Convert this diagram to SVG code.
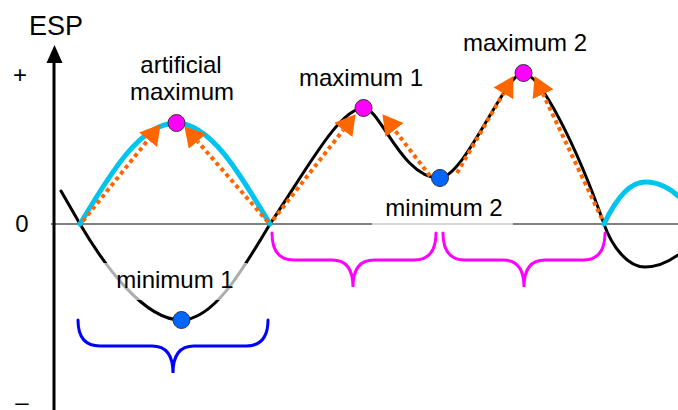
<svg xmlns="http://www.w3.org/2000/svg" width="678" height="410" viewBox="0 0 678 410">
<style>
  .lbl { font-family: "Liberation Sans", Arial, sans-serif; font-size: 24px; fill: #000; text-anchor: middle; }
  .ax { font-family: "Liberation Sans", Arial, sans-serif; font-size: 24px; fill: #000; text-anchor: middle; }
  .curve { fill: none; stroke: #000; stroke-width: 3; stroke-linecap: round; stroke-linejoin: round; }
  .cyan { fill: none; stroke: #00c4f0; stroke-width: 5; stroke-linecap: round; }
  .arrow { fill: none; stroke: #ff6600; stroke-width: 4; stroke-dasharray: 4 3.5; marker-end: url(#ah); }
  .max { fill: #ff00ff; stroke: #333; stroke-width: 1; }
  .min { fill: #0066ff; stroke: #333; stroke-width: 1; }
  .brace { fill: none; stroke-width: 3; stroke-linecap: round; }
  .bg { fill: #fff; fill-opacity: 0.68; }
</style>
<defs>
  <marker id="ah" markerUnits="userSpaceOnUse" markerWidth="20" markerHeight="23" viewBox="0 -11.5 20 23" refX="0" refY="0" orient="auto">
    <path d="M0,-11.5 L20,0 L0,11.5 Z" fill="#ff6600"/>
  </marker>
</defs>
<rect width="678" height="410" fill="#fff"/>

<g id="axes">
  <line x1="51" y1="224" x2="678" y2="224" stroke="#808080" stroke-width="2"/>
</g>

<g id="curves">
  <path class="curve" d="M61,191 L80,224 C104,265 144,320 181,320 C213,320 241,273 270,224 C310,164 340,108 364,108 C380,108 402,178 439,178 C465,178 505,73 523,73 C540,73 577,147 604,224 C612,247 628,267 645,267 C660,267 671,260 678,255"/>
  <path class="cyan" d="M80,224 C111,172 141,123 176,123 C210,123 239,172 270,224"/>
  <path class="cyan" d="M604,224 C614,203 628,182 645,182 C660,182 672,190 678,196"/>
</g>

<g id="label-backgrounds">
  <rect class="bg" x="103" y="263" width="144" height="37"/>
  <rect class="bg" x="372" y="188" width="141" height="38"/>
</g>

<g id="connectors">
  <line class="arrow" x1="83" y1="221" x2="148.1" y2="139.8"/>
  <line class="arrow" x1="268" y1="222" x2="197.5" y2="141.3"/>
  <line class="arrow" x1="273" y1="220" x2="343.3" y2="130"/>
  <line class="arrow" x1="430" y1="176" x2="394.6" y2="130"/>
  <line class="arrow" x1="457" y1="173" x2="503.4" y2="93.4"/>
  <line class="arrow" x1="602" y1="219" x2="543.1" y2="94.2"/>
</g>

<g id="artificial-maximum">
  <circle class="max" cx="176.5" cy="123" r="8.5"/>
  <text class="lbl" x="181" y="73">artificial</text>
  <text class="lbl" x="182" y="100">maximum</text>
</g>
<g id="maximum-1">
  <circle class="max" cx="363.5" cy="108" r="8.5"/>
  <text class="lbl" x="361" y="86">maximum 1</text>
</g>
<g id="maximum-2">
  <circle class="max" cx="523.5" cy="73" r="8.5"/>
  <text class="lbl" x="525" y="51">maximum 2</text>
</g>
<g id="minimum-1">
  <circle class="min" cx="181.5" cy="320" r="8.5"/>
  <text class="lbl" x="175" y="288">minimum 1</text>
</g>
<g id="minimum-2">
  <circle class="min" cx="440" cy="178" r="8.5"/>
  <text class="lbl" x="444" y="216">minimum 2</text>
</g>

<g id="braces">
  <path class="brace" stroke="#0000ff" d="M78,320 Q78,346 100,346 L152,346 Q173,346 173,373 Q173,346 194,346 L246,346 Q268,346 268,320"/>
  <path class="brace" stroke="#ff00ff" d="M272,233 Q272,260 294,260 L332,260 Q353,260 353,287 Q353,260 374,260 L414,260 Q436,260 436,233"/>
  <path class="brace" stroke="#ff00ff" d="M443,233 Q443,260 465,260 L503,260 Q524,260 524,287 Q524,260 545,260 L583,260 Q605,260 605,233"/>
</g>

<g id="y-axis">
  <line x1="54" y1="60" x2="54" y2="410" stroke="#000" stroke-width="3"/>
  <path d="M54.5,45 L46.5,63 L62.5,63 Z" fill="#000"/>
  <text class="ax" x="56" y="35" style="font-size:27px">ESP</text>
  <text class="ax" x="20" y="83">+</text>
  <text class="ax" x="22" y="232">0</text>
  <text class="ax" x="22" y="410">–</text>
</g>
</svg>
